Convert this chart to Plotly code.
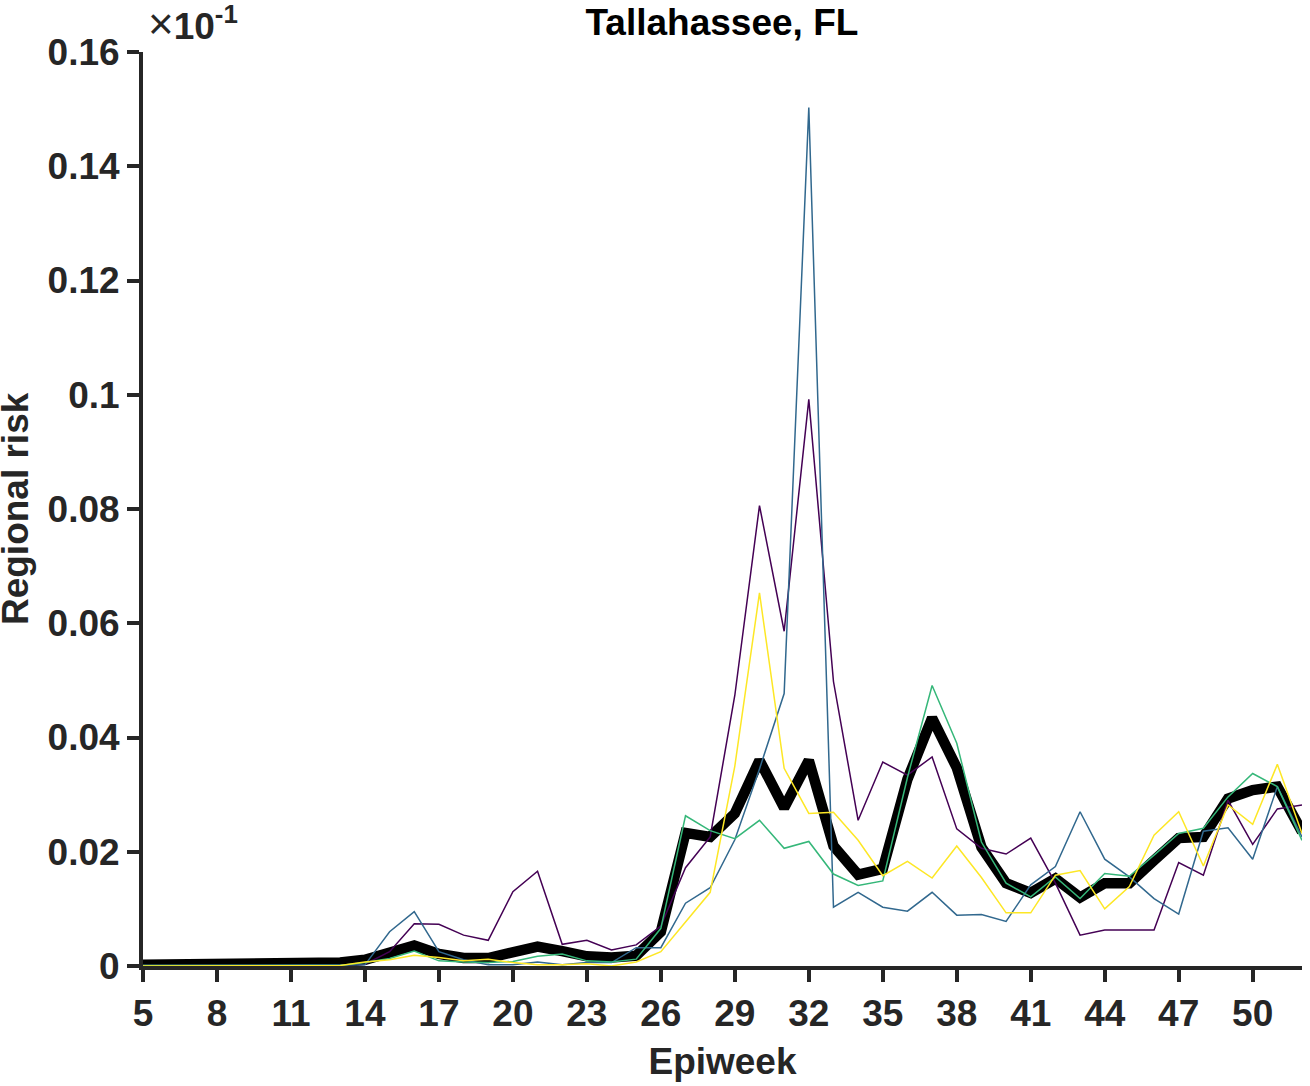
import plotly.graph_objects as go

# epiweeks 5..52
weeks = list(range(5, 53))

# regional risk (axis shown in units of 1e-1)
risk_purple = [
    0.0001, 0.0001, 0.0001, 0.0001, 0.0001, 0.0001, 0.0001, 0.0001, 0.0001, 0.0003,
    0.0025, 0.0074, 0.0073, 0.0054, 0.0045, 0.0130, 0.0166, 0.0038, 0.0045, 0.0028,
    0.0037, 0.0070, 0.0172, 0.0226, 0.0474, 0.0806, 0.0586, 0.0992, 0.0498, 0.0255,
    0.0357, 0.0334, 0.0366, 0.0240, 0.0206, 0.0196, 0.0224, 0.0145, 0.0054, 0.0063,
    0.0063, 0.0063, 0.0181, 0.0159, 0.0290, 0.0213, 0.0275, 0.0282,
]
risk_blue = [
    0.0001, 0.0001, 0.0001, 0.0001, 0.0001, 0.0001, 0.0001, 0.0001, 0.0001, 0.0002,
    0.0060, 0.0095, 0.0025, 0.0011, 0.0002, 0.0002, 0.0007, 0.0002, 0.0006, 0.0006,
    0.0032, 0.0032, 0.0110, 0.0137, 0.0221, 0.0345, 0.0477, 0.1503, 0.0103, 0.0129,
    0.0103, 0.0096, 0.0129, 0.0089, 0.0090, 0.0078, 0.0142, 0.0174, 0.0270, 0.0187,
    0.0156, 0.0118, 0.0091, 0.0236, 0.0242, 0.0187, 0.0314, 0.0226,
]
risk_green = [
    0.0001, 0.0001, 0.0001, 0.0001, 0.0001, 0.0001, 0.0001, 0.0001, 0.0001, 0.0006,
    0.0013, 0.0026, 0.0009, 0.0007, 0.0006, 0.0008, 0.0017, 0.0021, 0.0009, 0.0007,
    0.0012, 0.0066, 0.0263, 0.0237, 0.0223, 0.0255, 0.0206, 0.0218, 0.0161, 0.0141,
    0.0149, 0.0330, 0.0491, 0.0390, 0.0217, 0.0145, 0.0121, 0.0156, 0.0118, 0.0162,
    0.0157, 0.0194, 0.0232, 0.0241, 0.0296, 0.0337, 0.0314, 0.0220,
]
risk_yellow = [
    0.0000, 0.0000, 0.0000, 0.0000, 0.0000, 0.0000, 0.0000, 0.0000, 0.0001, 0.0007,
    0.0011, 0.0019, 0.0015, 0.0009, 0.0012, 0.0006, 0.0002, 0.0002, 0.0004, 0.0000,
    0.0007, 0.0025, 0.0076, 0.0129, 0.0350, 0.0653, 0.0346, 0.0267, 0.0269, 0.0220,
    0.0158, 0.0183, 0.0154, 0.0210, 0.0155, 0.0093, 0.0093, 0.0159, 0.0167, 0.0100,
    0.0139, 0.0229, 0.0270, 0.0175, 0.0282, 0.0248, 0.0353, 0.0232,
]
risk_mean = [
    0.0002, 0.0002, 0.0002, 0.0002, 0.0002, 0.0002, 0.0002, 0.0004, 0.0006, 0.0011,
    0.0022, 0.0036, 0.0021, 0.0014, 0.0014, 0.0024, 0.0034, 0.0026, 0.0017, 0.0015,
    0.0018, 0.0060, 0.0233, 0.0226, 0.0267, 0.0360, 0.0277, 0.0360, 0.0210, 0.0160,
    0.0170, 0.0327, 0.0434, 0.0347, 0.0208, 0.0145, 0.0128, 0.0153, 0.0120, 0.0145,
    0.0145, 0.0185, 0.0224, 0.0226, 0.0293, 0.0308, 0.0314, 0.0235,
]

x_ticks = list(range(5, 51, 3))
y_ticks = [0, 0.02, 0.04, 0.06, 0.08, 0.1, 0.12, 0.14, 0.16]
y_ticktext = ["0", "0.02", "0.04", "0.06", "0.08", "0.1", "0.12", "0.14", "0.16"]

FONT = "Liberation Sans, Arial, Helvetica, sans-serif"
AX = "#262626"
FS = 37

fig = go.Figure()

fig.add_trace(go.Scatter(x=weeks, y=risk_mean, mode="lines",
                         line=dict(color="black", width=10.5)))

series = [
    (risk_purple, "#440154"),
    (risk_blue, "#31688e"),
    (risk_green, "#35b779"),
    (risk_yellow, "#fde725"),
]
for vals, col in series:
    fig.add_trace(go.Scatter(x=weeks, y=vals, mode="lines",
                             line=dict(color=col, width=1.5)))

fig.update_layout(
    width=1310, height=1086,
    margin=dict(l=143, r=8, t=52, b=120),
    paper_bgcolor="white", plot_bgcolor="white",
    showlegend=False,
    hovermode=False,
    font=dict(family=FONT, size=FS, color=AX),
    title=dict(text="<b>Tallahassee, FL</b>", x=0.5511, xanchor="center",
               y=0.9797, yanchor="middle", yref="container",
               font=dict(size=FS, color="black")),
)

fig.update_xaxes(
    range=[5, 52], tickvals=x_ticks, automargin=False,
    showline=True, linecolor=AX, linewidth=4,
    ticks="outside", ticklen=12, tickwidth=4, tickcolor=AX,
    showgrid=False, zeroline=False,
    tickfont=dict(size=FS, weight="bold", color=AX),
    title=dict(text="<b>Epiweek</b>", standoff=16,
               font=dict(size=FS, color=AX)),
)
fig.update_yaxes(
    range=[0, 0.16], tickvals=y_ticks, ticktext=y_ticktext, automargin=False,
    showline=True, linecolor=AX, linewidth=4,
    ticks="outside", ticklen=12, tickwidth=4, tickcolor=AX,
    showgrid=False, zeroline=False,
    tickfont=dict(size=FS, weight="bold", color=AX),
)

# y axis title placed by hand (standoff has no effect without automargin)
fig.add_annotation(
    xref="paper", yref="paper", x=-0.1104, y=0.5,
    xanchor="center", yanchor="middle", showarrow=False, textangle=-90,
    text="<b>Regional risk</b>", font=dict(size=FS, color=AX),
)

fig.add_annotation(
    xref="paper", yref="paper", x=0.003, y=1.031,
    xanchor="left", yanchor="middle", showarrow=False,
    text="<span style='font-weight:normal;font-size:44px'>×</span><b>10<sup>-1</sup></b>",
    font=dict(size=FS, color=AX),
)

# drop the browser's default body margin so the figure fills the window
fig.write_html("out.html", config={"displayModeBar": False},
               post_script="document.body.style.margin='0px';")
